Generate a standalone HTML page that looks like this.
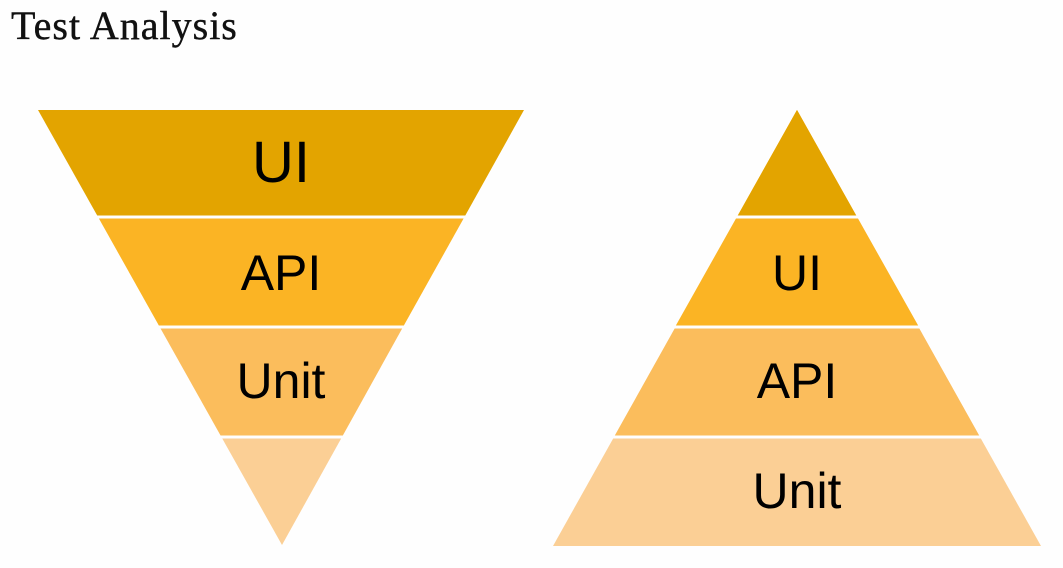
<!DOCTYPE html>
<html><head><meta charset="utf-8"><style>
html,body{margin:0;padding:0;background:#fefefe;}
body{width:1063px;height:568px;overflow:hidden;position:relative;}
.t{position:absolute;left:11px;top:2px;font-family:"Liberation Serif",serif;font-size:40px;letter-spacing:1px;color:#111;-webkit-text-stroke:0.4px #111;}
</style></head><body>
<div class="t">Test Analysis</div>
<svg width="1063" height="568" style="position:absolute;left:0;top:0" font-family="Liberation Sans, sans-serif" text-anchor="middle">
<polygon points="38,110 524,110 465,216 97.5,216" fill="#E3A400"/>
<polygon points="97.5,216 465,216 403,327 159.7,327" fill="#FBB424"/>
<polygon points="159.7,327 403,327 342,437 221.4,437" fill="#FBBD5C"/>
<polygon points="221.4,437 342,437 282,545" fill="#FBCF95"/>
<line x1="30" y1="217" x2="530" y2="217" stroke="#fefefe" stroke-width="3"/>
<line x1="30" y1="327" x2="530" y2="327" stroke="#fefefe" stroke-width="3"/>
<line x1="30" y1="437" x2="530" y2="437" stroke="#fefefe" stroke-width="3"/>
<text x="281" y="182" font-size="58">UI</text>
<text x="281" y="290" font-size="50">API</text>
<text x="281" y="398" font-size="50">Unit</text>
<polygon points="797,110 1041,546 553,546" fill="#FBCF95"/>
<polygon points="797,110 980,437 614,437" fill="#FBBD5C"/>
<polygon points="797,110 919,327 675,327" fill="#FBB424"/>
<polygon points="797,110 857,217 737,217" fill="#E3A400"/>
<line x1="540" y1="217" x2="1063" y2="217" stroke="#fefefe" stroke-width="3"/>
<line x1="540" y1="327" x2="1063" y2="327" stroke="#fefefe" stroke-width="3"/>
<line x1="540" y1="437" x2="1063" y2="437" stroke="#fefefe" stroke-width="3"/>
<text x="797" y="290" font-size="50">UI</text>
<text x="797" y="398" font-size="50">API</text>
<text x="797" y="508" font-size="50">Unit</text>
</svg>
</body></html>
